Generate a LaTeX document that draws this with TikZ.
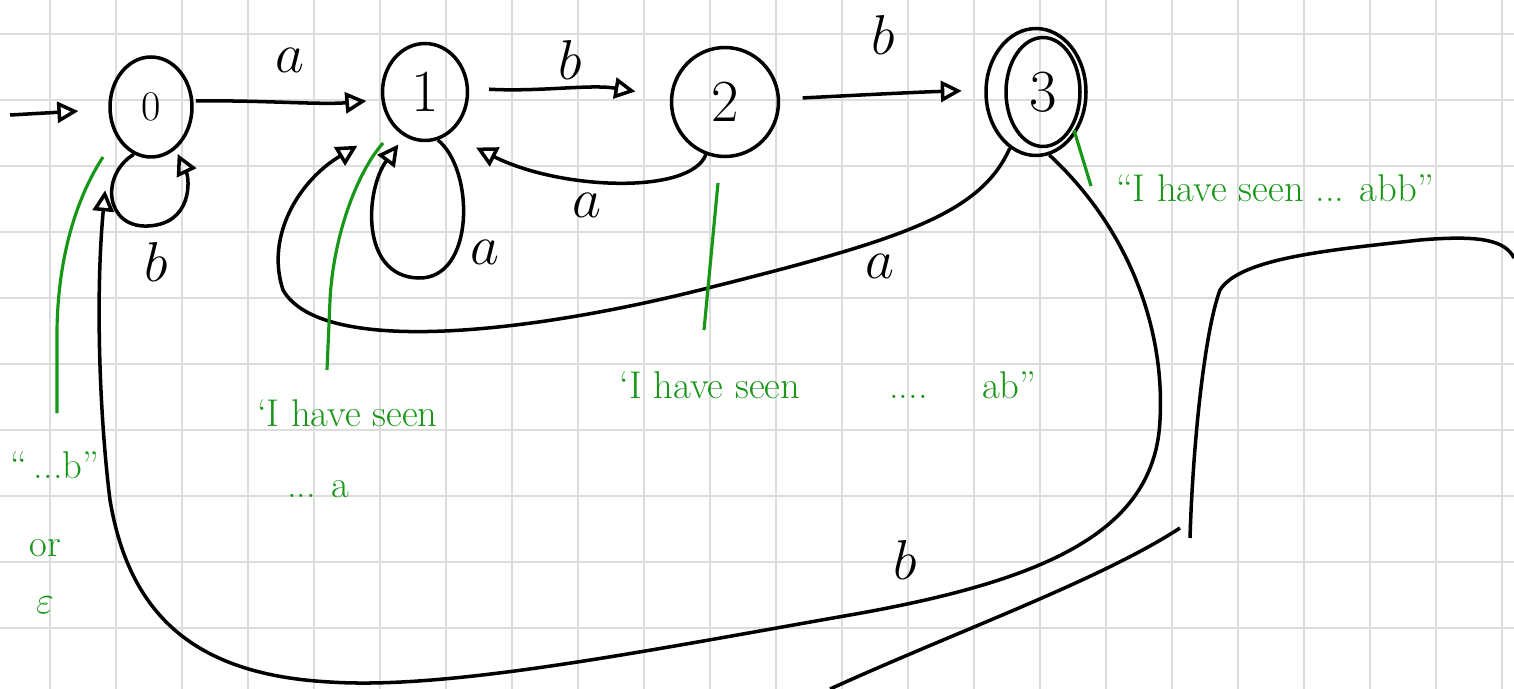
\RequirePackage{fix-cm}
\documentclass[tikz,border=0pt]{standalone}
\usepackage{tikz}
\usetikzlibrary{shapes.geometric, arrows.meta, positioning}
\definecolor{notegreen}{HTML}{179617}
\definecolor{gridgray}{HTML}{DDDDDD}

\begin{document}
\begin{tikzpicture}[
        x=0.02cm, y=-0.02cm,
        state/.style={ellipse, draw=black, line width=2pt, inner sep=0pt, font=\fontsize{34}{40}\selectfont},
        arrow/.style={-{Triangle[open, length=0.42cm, width=0.42cm]}, line width=2pt},
        edgelabel/.style={inner sep=1pt, font=\fontsize{32}{38}\selectfont},
        note/.style={text=notegreen, inner sep=1pt, font=\fontsize{22}{30}\selectfont},
        pointer/.style={draw=notegreen, line width=1.8pt},
        gridline/.style={draw=gridgray, line width=0.8pt}
    ]

    % paper
    \useasboundingbox (0,0) rectangle (1514,689);
    \fill[white] (0,0) rectangle (1514,689);
    \foreach \gx in {0,...,22} \draw[gridline] (50+66*\gx,0) -- (50+66*\gx,689);
    \foreach \gy in {0,...,9} \draw[gridline] (0,34+66*\gy) -- (1514,34+66*\gy);

    % states
    \node[state, minimum width=1.64cm, minimum height=2cm, font=\fontsize{24}{28}\selectfont] (q0) at (151,107) {0};
    \node[state, minimum width=1.7cm, minimum height=1.94cm] (q1) at (425,92) {1};
    \node[state, minimum width=2.14cm, minimum height=2.18cm] (q2) at (725,102) {2};
    \node[state, minimum width=2cm, minimum height=2.54cm] (q3) at (1036,92) {};
    \node[state, minimum width=1.48cm, minimum height=2.18cm] (q3in) at (1043,92) {3};

    \coordinate (init) at (10,115);
    \draw[arrow, shorten >=0.6cm] (init) -- (q0);

    % transitions
    \draw[arrow, shorten <=0.05cm, shorten >=0.3cm] (q0.8) .. controls (260,100) and (320,105) .. (q1.190) node[edgelabel] at (290,60) {$a$};
    \draw[arrow, shorten <=0.4cm, shorten >=0.7cm] (q1.5) .. controls (540,92) and (590,84) .. (q2.175) node[edgelabel] at (570,60) {$b$};
    \draw[arrow, shorten <=0.45cm, shorten >=0.45cm] (q2.3) .. controls (860,95) and (920,92) .. (q3.178) node[edgelabel] at (883,35) {$b$};
    \draw[arrow, shorten >=0.6cm] (q2.250) .. controls (690,195) and (560,190) .. (q1.300) node[edgelabel] at (587,205) {$a$};

    % self loops
    \draw[arrow, shorten >=0.1cm] (q0.250) .. controls (100,175) and (105,228) .. (148,226) .. controls (192,224) and (190,180) .. (q0.300);
    \node[edgelabel] (lb0) at (156,262) {$b$};
    \draw[arrow, shorten >=0.2cm] (q1.285) .. controls (475,170) and (475,280) .. (418,278) .. controls (360,276) and (365,190) .. (q1.245);
    \node[edgelabel] (la1) at (485,252) {$a$};

    % back edges
    \draw[arrow, shorten >=0.8cm] (q3.245) .. controls (980,215) and (900,240) .. (700,290) .. controls (520,335) and (320,355) .. (283,290) .. controls (265,235) and (300,180) .. (q1.225) node[edgelabel] at (880,266) {$a$};
    \draw[arrow, shorten >=1.3cm] (q3.282) .. controls (1130,230) and (1165,330) .. (1160,420) .. controls (1155,530) and (1050,580) .. (850,615) .. controls (650,650) and (450,690) .. (330,682) .. controls (200,675) and (130,620) .. (110,500) .. controls (100,420) and (95,300) .. (q0.205) node[edgelabel] at (905,560) {$b$};

    % stray strokes
    \draw[line width=2pt] (830,689) .. controls (960,630) and (1100,580) .. (1180,528);
    \draw[line width=2pt] (1190,538) .. controls (1193,440) and (1205,330) .. (1220,290) .. controls (1240,258) and (1330,250) .. (1420,240) .. controls (1480,235) and (1505,240) .. (1514,258);

    % notes
    \node[note] (note0) at (55,465) {``\,...b''};
    \node[note] (or0) at (45,548) {or};
    \node[note] (eps0) at (45,605) {$\varepsilon$};
    \node[note, align=left, anchor=north west] (note1) at (255,398) {`I have seen\\[0.35cm]\hspace{0.6cm}... a};
    \node[note] (note2) at (828,385) {`I have seen \qquad .... \quad ab''};
    \node[note] (note3) at (1275,188) {``I have seen ... abb''};

    \coordinate (p0a) at (103,157);
    \coordinate (p0b) at (57,413);
    \coordinate (p1a) at (383,143);
    \coordinate (p1b) at (327,370);
    \coordinate (p2a) at (718,183);
    \coordinate (p2b) at (704,330);
    \coordinate (p3a) at (1074,130);
    \coordinate (p3b) at (1091,186);
    \draw[pointer] (p0a) .. controls (75,200) and (58,260) .. (57,330) -- (p0b);
    \draw[pointer] (p1a) .. controls (355,175) and (333,240) .. (330,300) -- (p1b);
    \draw[pointer] (p2a) -- (p2b);
    \draw[pointer] (p3a) -- (p3b);
\end{tikzpicture}
\end{document}
